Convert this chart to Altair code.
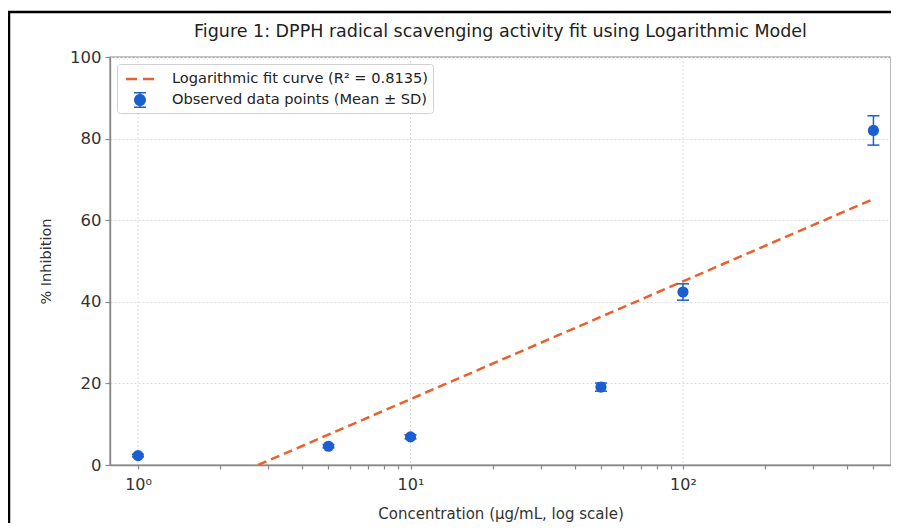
import altair as alt
import pandas as pd

# ---- data ----
conc = [1, 5, 10, 50, 100, 500]
mean_inh = [2.3, 4.6, 6.9, 19.1, 42.4, 82.0]
sd_inh = [0.3, 0.4, 0.5, 1.0, 2.0, 3.6]
fit_conc = [2.76, 500]
fit_inh = [0.0, 65.2]

x_ticks = [1, 2, 3, 4, 5, 6, 7, 8, 9,
           10, 20, 30, 40, 50, 60, 70, 80, 90,
           100, 200, 300, 400, 500]
x_major = [1, 10, 100]
y_ticks = [0, 20, 40, 60, 80, 100]

FIT = "Logarithmic fit curve (R\u00b2 = 0.8135)"
OBS = "Observed data points (Mean \u00b1 SD)"
BLUE = "#1a5ecf"
ORANGE = "#e8602c"
FONT = "DejaVu Sans"

obs = pd.DataFrame({"conc": conc, "mean": mean_inh, "sd": sd_inh, "series": OBS})
fit = pd.DataFrame({"conc": fit_conc, "inh": fit_inh, "series": FIT})
major_df = pd.DataFrame({"conc": x_major})

xscale = alt.Scale(type="log", domain=[0.789, 580], nice=False)
yscale = alt.Scale(domain=[0, 100], nice=False, zero=False)
cscale = alt.Scale(domain=[FIT, OBS], range=[ORANGE, BLUE])

# legend glyphs (unit = 10 px, shifted right by 0.8 unit)
dash_path = "M-0.6,-0.13H0.5V0.13H-0.6Z M1.1,-0.13H2.2V0.13H1.1Z"
obs_path = ("M1.4,0A0.6,0.6 0 1,1 0.2,0A0.6,0.6 0 1,1 1.4,0Z "
            "M0.725,-0.8H0.875V0.8H0.725Z "
            "M0.2,-0.8H1.4V-0.65H0.2Z M0.2,0.65H1.4V0.8H0.2Z")
sscale = alt.Scale(domain=[FIT, OBS], range=[dash_path, obs_path])

x_axis = alt.Axis(
    title="Concentration (\u00b5g/mL, log scale)",
    values=x_ticks, grid=False,
    labelExpr="datum.value == 1 ? '10\u2070' : datum.value == 10 ? '10\u00b9' : datum.value == 100 ? '10\u00b2' : ''",
    tickSize=4,
    labelFontSize=16, titleFontSize=15, labelPadding=7, titlePadding=14,
)
y_axis = alt.Axis(
    title="% Inhibition", values=y_ticks, tickSize=5,
    labelFontSize=16.5, titleFontSize=14.5, labelPadding=4, titlePadding=16,
)


def X():
    return alt.X("conc:Q", scale=xscale, axis=x_axis)


def Y(field):
    return alt.Y(field, scale=yscale, axis=y_axis)


xgrid = alt.Chart(major_df).mark_rule(
    color="#dcdcdc", strokeWidth=1, strokeDash=[2, 2]
).encode(x=X())

fit_line = alt.Chart(fit).mark_line(
    color=ORANGE, strokeDash=[9, 5], strokeWidth=2.5, clip=True
).encode(x=X(), y=Y("inh:Q"))

err_base = alt.Chart(obs).transform_calculate(
    lo="datum.mean - datum.sd", hi="datum.mean + datum.sd"
)
err_rule = err_base.mark_rule(color=BLUE, strokeWidth=1.5).encode(
    x=X(), y=Y("lo:Q"), y2="hi:Q",
)
cap_lo = err_base.mark_tick(orient="horizontal", size=12, thickness=1.5,
                            color=BLUE, opacity=1).encode(x=X(), y=Y("lo:Q"))
cap_hi = err_base.mark_tick(orient="horizontal", size=12, thickness=1.5,
                            color=BLUE, opacity=1).encode(x=X(), y=Y("hi:Q"))

points = alt.Chart(obs).mark_circle(size=125, opacity=1, color=BLUE).encode(
    x=X(), y=Y("mean:Q"),
)

leg = dict(
    title=None, orient="top-left", offset=7, padding=5,
    fillColor="white", strokeColor="#d0d0d0", cornerRadius=3,
    symbolSize=400, symbolStrokeWidth=0, symbolOpacity=1,
    labelFontSize=14.6, labelFont=FONT, labelColor="#222222",
    labelOffset=30, rowPadding=4, labelLimit=500,
)
# invisible layer that only carries the legend
legend_layer = alt.Chart(obs).mark_point(filled=True, opacity=0).encode(
    x=X(), y=Y("mean:Q"),
    color=alt.Color("series:N", scale=cscale, legend=alt.Legend(**leg)),
    shape=alt.Shape("series:N", scale=sscale, legend=alt.Legend(**leg)),
)

frame_df = pd.DataFrame({"k": [0]})
frame_top = alt.Chart(frame_df).mark_rule(color="black", strokeWidth=2.5).encode(
    x=alt.value(-102), x2=alt.value(790), y=alt.value(-45), y2=alt.value(-45)
)
frame_left = alt.Chart(frame_df).mark_rule(color="black", strokeWidth=2.5).encode(
    x=alt.value(-101), y=alt.value(-46), y2=alt.value(470)
)

chart = alt.layer(
    xgrid, fit_line, err_rule, cap_lo, cap_hi, points, legend_layer,
    frame_top, frame_left
).properties(
    width=781, height=408,
    title=alt.TitleParams(
        "Figure 1: DPPH radical scavenging activity fit using Logarithmic Model",
        fontSize=17.5, font=FONT, fontWeight="normal", color="#222222",
        anchor="middle", offset=8, dy=39,
    ),
    autosize=alt.AutoSizeParams(type="none"),
    padding={"left": 102, "top": 49, "right": 0, "bottom": 58},
    background="white",
).configure_view(
    stroke="#888888", strokeWidth=1.4,
).configure_axis(
    domainColor="#888888", domainWidth=1.4, tickColor="#888888", tickWidth=1.2,
    labelColor="#333333", titleColor="#333333", labelFont=FONT, titleFont=FONT,
    titleFontWeight="normal", gridColor="#dcdcdc", gridDash=[2, 2], gridWidth=1,
)

chart.save("out.html", embed_options={"renderer": "svg", "actions": False})
